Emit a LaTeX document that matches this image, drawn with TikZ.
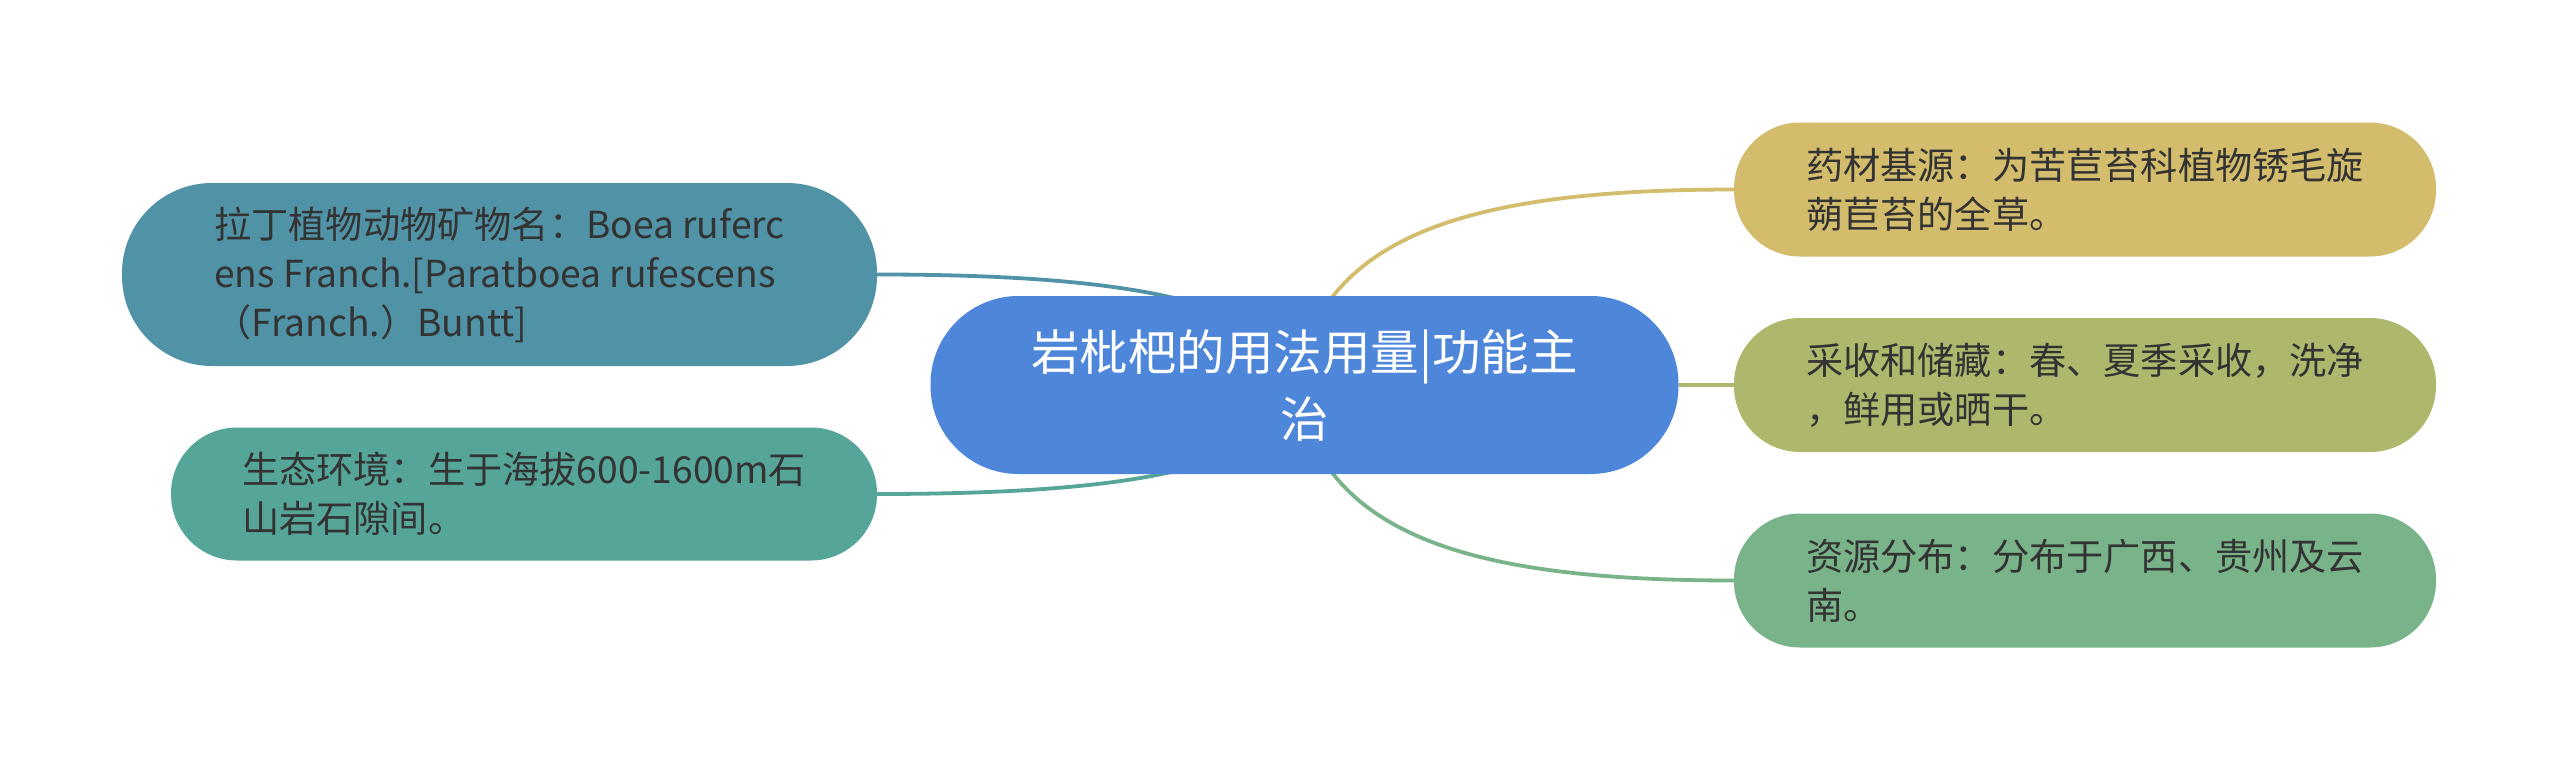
\documentclass[tikz,border=0pt]{standalone}
\usepackage{fontspec}
\newfontfamily\cjk{Noto Sans CJK SC}
\usetikzlibrary{backgrounds}
\definecolor{ccenter}{HTML}{4E86DA}
\definecolor{cla}{HTML}{5193A6}
\definecolor{clb}{HTML}{55A598}
\definecolor{cra}{HTML}{D3BC6B}
\definecolor{crb}{HTML}{AEB76B}
\definecolor{crc}{HTML}{79B38A}
\definecolor{ctext}{HTML}{333333}
\tikzset{
  mapbox/.style={rectangle, inner sep=0pt, align=left, text=ctext,
    font={\cjk\fontsize{37.2}{49}\selectfont}},
  rootbox/.style={rectangle, inner sep=0pt, align=center, text=white,
    font={\cjk\fontsize{48.5}{67}\selectfont}},
  link/.style={line width=3.8pt},
}
\begin{document}
\begin{tikzpicture}[x=1pt,y=-1pt]
\useasboundingbox (0,0) rectangle (2560,771);

\node[rootbox, fill=ccenter, minimum width=748, minimum height=178, rounded corners=88] (c) at (1304.5,385)
  {岩枇杷的用法用量|功能主\\治};

\node[mapbox, fill=cla, minimum width=755, minimum height=183, rounded corners=90] (l1) at (499.5,274.5)
  {拉丁植物动物矿物名：Boea ruferc\\ens Franch.[Paratboea rufescens\\（Franch.）Buntt]};
\node[mapbox, fill=clb, minimum width=706, minimum height=133, rounded corners=66] (l2) at (524,494)
  {生态环境：生于海拔600-1600m石\\山岩石隙间。};

\node[mapbox, fill=cra, minimum width=702, minimum height=134, rounded corners=66] (r1) at (2085,189.5)
  {药材基源：为苦苣苔科植物锈毛旋\\蒴苣苔的全草。};
\node[mapbox, fill=crb, minimum width=702, minimum height=134, rounded corners=66] (r2) at (2085,385)
  {采收和储藏：春、夏季采收，洗净\\，鲜用或晒干。};
\node[mapbox, fill=crc, minimum width=702, minimum height=134, rounded corners=66] (r3) at (2085,580.5)
  {资源分布：分布于广西、贵州及云\\南。};

\coordinate (cl1) at (1295,360);
\coordinate (cl2) at (1295,410);
\coordinate (cr1) at (1312,330);
\coordinate (cr3) at (1312,440);

\begin{pgfonlayer}{background}
\fill[white] (0,0) rectangle (2560,771);
\draw[link, cla] (l1.east) .. controls +(235,0) and +(-50,-62) .. (cl1);
\draw[link, clb] (l2.east) .. controls +(235,0) and +(-50,62) .. (cl2);
\draw[link, cra] (r1.west) .. controls +(-234,0) and +(50,-105) .. (cr1);
\draw[link, crb] (c.east) -- (r2.west);
\draw[link, crc] (r3.west) .. controls +(-234,0) and +(50,105) .. (cr3);
\end{pgfonlayer}
\end{tikzpicture}
\end{document}
